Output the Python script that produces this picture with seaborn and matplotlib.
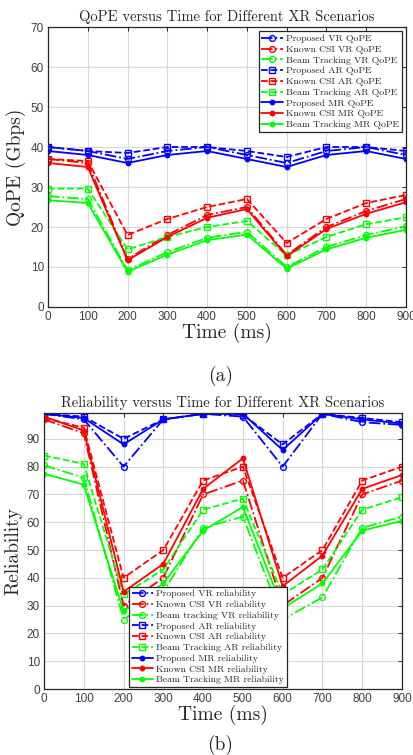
import matplotlib
matplotlib.use("Agg")
import matplotlib.pyplot as plt
import seaborn as sns
import pandas as pd

time_ms = [0, 100, 200, 300, 400, 500, 600, 700, 800, 900]

# QoPE (Gbps)
prop_vr_q = [40, 39, 37, 39, 40, 38, 36, 39, 40, 38]
csi_vr_q = [37, 36, 12, 18, 23, 25, 13, 20, 24, 27]
beam_vr_q = [27.7, 27, 9.2, 13.7, 17.3, 18.8, 10, 15, 18, 20.2]
prop_ar_q = [40, 39, 38.5, 40, 40, 39, 37.5, 40, 40, 39]
csi_ar_q = [37, 36.5, 18, 22, 25, 27, 16, 22, 26, 28]
beam_ar_q = [29.6, 29.6, 14.4, 17.5, 20, 21.5, 12.9, 17.5, 20.7, 22.4]
prop_mr_q = [39, 38, 36, 38, 39, 37, 35, 38, 39, 37]
csi_mr_q = [36, 35, 11.7, 17.5, 22.3, 24.5, 12.7, 19.5, 23.3, 26.2]
beam_mr_q = [26.7, 26, 8.8, 13.1, 16.7, 18.1, 9.6, 14.4, 17.3, 19.3]

# Reliability
prop_vr_r = [99, 97, 80, 97, 99, 98, 80, 99, 96, 95]
csi_vr_r = [97, 92, 30, 40, 70, 75, 30, 40, 70, 75]
beam_vr_r = [80.5, 76, 25, 35, 58, 62, 25, 33, 58, 62]
prop_ar_r = [99, 98, 90, 97, 99, 98.7, 88, 99, 97.5, 96]
csi_ar_r = [97.5, 94, 40, 50, 75, 80, 40, 50, 75, 80]
beam_ar_r = [84, 81, 34, 43, 64.5, 68.5, 34, 43, 64.5, 69]
prop_mr_r = [99, 97.5, 88, 97, 99, 99, 86, 99, 97, 95.5]
csi_mr_r = [98, 93, 35, 45, 72, 83, 37, 48, 72, 77]
beam_mr_r = [77.5, 73.5, 28, 38, 57, 65.5, 29, 38, 57, 60.5]

qope_series = [
    ("Proposed VR QoPE", prop_vr_q),
    ("Known CSI VR QoPE", csi_vr_q),
    ("Beam Tracking VR QoPE", beam_vr_q),
    ("Proposed AR QoPE", prop_ar_q),
    ("Known CSI AR QoPE", csi_ar_q),
    ("Beam Tracking AR QoPE", beam_ar_q),
    ("Proposed MR QoPE", prop_mr_q),
    ("Known CSI MR QoPE", csi_mr_q),
    ("Beam Tracking MR QoPE", beam_mr_q),
]
rel_series = [
    ("Proposed VR reliability", prop_vr_r),
    ("Known CSI VR reliability", csi_vr_r),
    ("Beam tracking VR reliability", beam_vr_r),
    ("Proposed AR reliability", prop_ar_r),
    ("Known CSI AR reliability", csi_ar_r),
    ("Beam Tracking AR reliability", beam_ar_r),
    ("Proposed MR reliability", prop_mr_r),
    ("Known CSI MR reliability", csi_mr_r),
    ("Beam Tracking MR reliability", beam_mr_r),
]

colors = ["#0000ff", "#ff0000", "#00ff00"] * 3
styles = [("-.", "o", "none")] * 3 + [("--", "s", "none")] * 3 + [("-", "o", "full")] * 3

sns.set_style("whitegrid")
serif = "cmr10"
tick_font = "Liberation Sans"

fig = plt.figure(figsize=(4.14, 7.55), dpi=100)
ax1 = fig.add_axes([48 / 414, 1 - 307 / 755, 358 / 414, 280 / 755])
ax2 = fig.add_axes([44 / 414, 1 - 689 / 755, 358 / 414, 276 / 755])


def draw(ax, series):
    for i, (name, vals) in enumerate(series):
        df = pd.DataFrame({"t": time_ms, "v": vals})
        ls, mk, fill = styles[i]
        ms = 3.2 if fill == "full" else 4.2
        sns.lineplot(data=df, x="t", y="v", ax=ax, color=colors[i], linestyle=ls,
                     marker=mk, markersize=ms, fillstyle=fill, markeredgewidth=1.0,
                     linewidth=1.3, label=name, estimator=None, sort=False,
                     markerfacecolor=colors[i] if fill == "full" else "none",
                     markeredgecolor=colors[i])


def style_axes(ax):
    ax.grid(True, color="#d9d9d9", linewidth=0.8)
    for sp in ax.spines.values():
        sp.set_color("#262626")
        sp.set_linewidth(0.9)
    ax.tick_params(direction="in", length=3, width=0.7, top=True, right=True,
                   labelsize=8.5, colors="#262626", labelcolor="#404040", pad=3)
    for lab in ax.get_xticklabels() + ax.get_yticklabels():
        lab.set_fontfamily(tick_font)
    ax.set_xlim(0, 900)
    ax.set_xticks(time_ms)


def add_legend(ax, loc, anchor):
    leg = ax.legend(loc=loc, bbox_to_anchor=anchor, prop={"family": serif, "size": 7},
                    frameon=True, fancybox=False, edgecolor="#262626", framealpha=1,
                    handlelength=2.2, labelspacing=0.2, borderpad=0.3, handletextpad=0.3,
                    borderaxespad=0)
    leg.get_frame().set_linewidth(0.9)


draw(ax1, qope_series)
ax1.set_ylim(0, 70)
ax1.set_yticks(range(0, 71, 10))
style_axes(ax1)
ax1.set_title("QoPE versus Time for Different XR Scenarios", fontfamily=serif,
              fontsize=10.5, pad=4)
ax1.set_xlabel("Time (ms)", fontfamily=serif, fontsize=14, labelpad=0)
ax1.set_ylabel("QoPE (Gbps)", fontfamily=serif, fontsize=14, labelpad=3)
add_legend(ax1, "upper right", (0.988, 0.984))

draw(ax2, rel_series)
ax2.set_ylim(0, 99.3)
ax2.set_yticks(range(0, 91, 10))
style_axes(ax2)
ax2.set_title("Reliability versus Time for Different XR Scenarios", fontfamily=serif,
              fontsize=10.5, pad=4)
ax2.set_xlabel("Time (ms)", fontfamily=serif, fontsize=14, labelpad=0)
ax2.set_ylabel("Reliability", fontfamily=serif, fontsize=14, labelpad=3)
add_legend(ax2, "lower left", (0.237, 0.006))

fig.text(0.532, 1 - 376 / 755, "(a)", fontfamily=serif, fontsize=14, ha="center", va="center")
fig.text(0.532, 1 - 745 / 755, "(b)", fontfamily=serif, fontsize=14, ha="center", va="center")

fig.savefig("out.png", dpi=100)
